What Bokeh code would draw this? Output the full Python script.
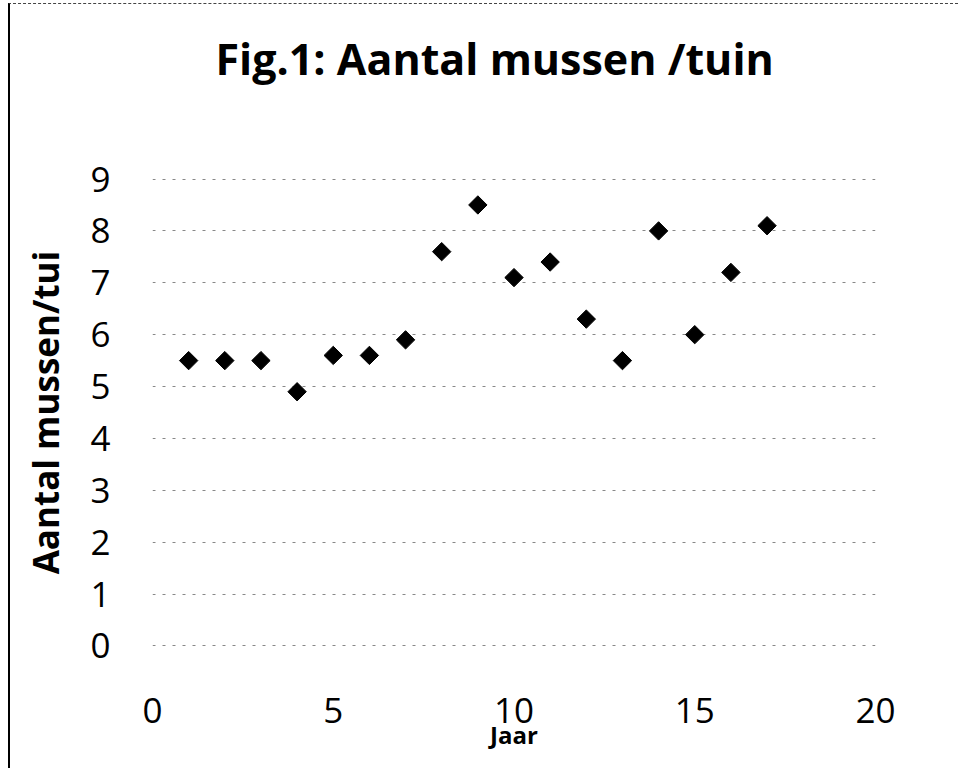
import math
from bokeh.plotting import figure
from bokeh.models import Range1d, SingleIntervalTicker, ColumnDataSource, Title
from bokeh.embed import file_html
from bokeh.resources import INLINE

# Data
jaar = list(range(1, 18))
mussen = [5.5, 5.5, 5.5, 4.9, 5.6, 5.6, 5.9, 7.6, 8.5, 7.1, 7.4, 6.3, 5.5, 8.0, 6.0, 7.2, 8.1]

title_text = "Fig.1: Aantal mussen /tuin"
x_label = "Jaar"
y_label = "Aantal mussen/tui"

FONT = "Open Sans"

p = figure(width=950, height=765, output_backend="svg", toolbar_location=None,
           title_location=None,
           x_range=Range1d(0, 20), y_range=Range1d(-0.01, 9.01),
           min_border_left=142, min_border_right=85, min_border_top=174, min_border_bottom=123)

# spacer between the plot area and the title
spacer = Title(text=" ", text_font_size="10px", standoff=80)
p.add_layout(spacer, "above")
main_title = Title(text=title_text, text_font=FONT, text_font_size="43px",
                   text_font_style="bold", text_color="black",
                   align="left", offset=63, standoff=-4)
p.add_layout(main_title, "above")

p.outline_line_color = None
p.background_fill_color = "white"
p.border_fill_color = "white"

for ax in (p.xaxis, p.yaxis):
    ax.axis_line_color = None
    ax.major_tick_line_color = None
    ax.minor_tick_line_color = None
    ax.major_label_text_font = FONT
    ax.major_label_text_font_size = "35px"
    ax.major_label_text_color = "black"
    ax.axis_label_text_font = FONT
    ax.axis_label_text_font_style = "bold"
    ax.axis_label_text_color = "black"

p.xaxis.ticker = SingleIntervalTicker(interval=5)
p.yaxis.ticker = SingleIntervalTicker(interval=1)
p.xaxis.axis_label = x_label
p.yaxis.axis_label = y_label
p.xaxis.axis_label_text_font_size = "24px"
p.yaxis.axis_label_text_font_size = "35px"
p.xaxis.major_label_standoff = 45
p.xaxis.axis_label_standoff = -8
p.yaxis.major_label_standoff = 36
p.yaxis.axis_label_standoff = 18

p.xgrid.grid_line_color = None
p.ygrid.grid_line_color = "#888888"
p.ygrid.grid_line_dash = "3 7"
p.ygrid.grid_line_width = 1

src = ColumnDataSource(data=dict(x=jaar, y=mussen))
p.scatter("x", "y", source=src, marker="square", size=13, angle=math.pi / 4,
          fill_color="black", line_color="black")

p.styles = {"margin-left": "8px", "margin-top": "3px",
            "border-left": "2px solid black", "border-top": "1px dashed #444"}

open("out.html", "w").write(file_html(p, INLINE))
